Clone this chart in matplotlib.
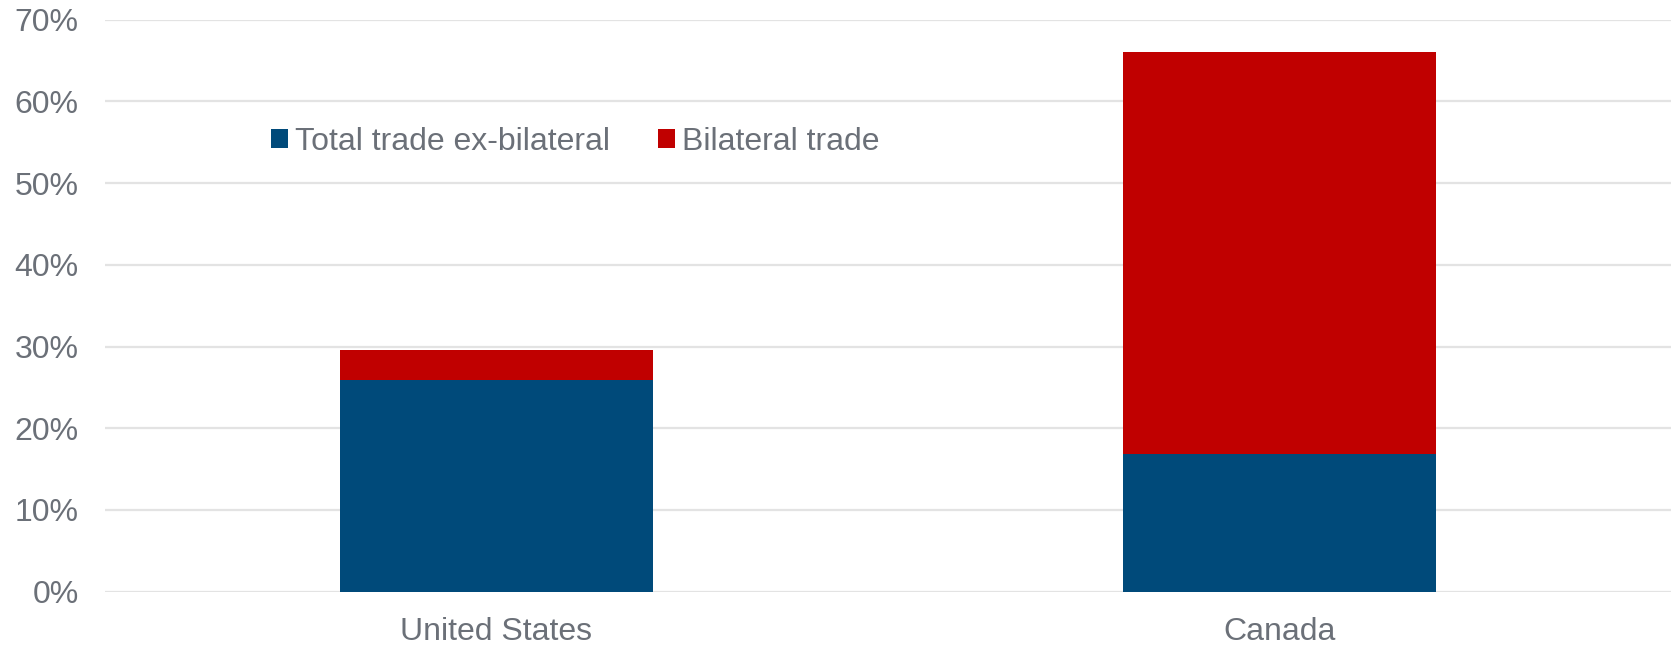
import matplotlib
matplotlib.use("Agg")
import matplotlib.pyplot as plt
from matplotlib.patches import Patch
from matplotlib.ticker import PercentFormatter

categories = ["United States", "Canada"]
ex_bilateral = [0.259, 0.169]
bilateral = [0.037, 0.492]
series_names = ["Total trade ex-bilateral", "Bilateral trade"]
yticks = [0.0, 0.1, 0.2, 0.3, 0.4, 0.5, 0.6, 0.7]

BLUE = "#004A7A"
RED = "#C00000"
TXT = "#6B7078"
GRID = "#E3E3E3"
FS = 23

plt.rcParams["font.family"] = ["Liberation Sans", "DejaVu Sans"]

W, H = 1675, 645
fig = plt.figure(figsize=(W / 100, H / 100), dpi=100)
ax = fig.add_axes([105 / W, 1 - 591.7 / H, (1671 - 105) / W, (591.7 - 19.7) / H])

x = list(range(len(categories)))
ax.bar(x, ex_bilateral, width=0.4, color=BLUE, zorder=3)
ax.bar(x, bilateral, width=0.4, bottom=ex_bilateral, color=RED, zorder=3)

ax.set_xlim(-0.5, 1.5)
ax.set_ylim(0, 0.70)
ax.set_yticks(yticks)
ax.yaxis.set_major_formatter(PercentFormatter(1.0, decimals=0))
ax.set_xticks(x)
ax.set_xticklabels(categories)
ax.grid(axis="y", color=GRID, linewidth=1.6, zorder=0)
ax.set_axisbelow(True)
for s in ax.spines.values():
    s.set_visible(False)
ax.tick_params(axis="both", length=0, labelsize=FS, labelcolor=TXT)
ax.tick_params(axis="y", pad=19)
ax.tick_params(axis="x", pad=18)

handles = [Patch(facecolor=BLUE, edgecolor="none"), Patch(facecolor=RED, edgecolor="none")]
fig.legend(handles, series_names, loc="center left",
           bbox_to_anchor=(271 / W, 1 - 142 / H), bbox_transform=fig.transFigure,
           ncol=2, frameon=False, fontsize=FS, labelcolor=TXT,
           handlelength=0.53, handleheight=0.53, handletextpad=0.22,
           columnspacing=1.5, borderpad=0, borderaxespad=0)

fig.savefig("out.png", dpi=100, facecolor="white")
